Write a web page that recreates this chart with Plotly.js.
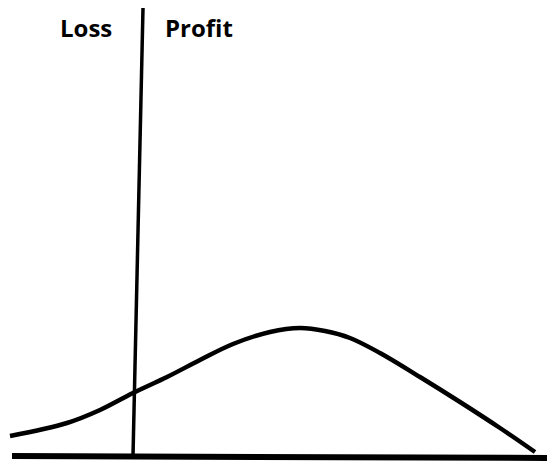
<!DOCTYPE html>
<html>
<head>
<meta charset="utf-8">
<script src="https://cdn.plot.ly/plotly-3.0.1.min.js"></script>
<style>html,body{margin:0;padding:0;background:#fff;}#chart{width:547px;height:466px;}</style>
</head>
<body>
<div id="chart"></div>
<script>
// Profit (x, arbitrary units; 0 = break-even) and probability density (y)
const curveX = [-122, -65, -32, 1, 35, 68, 101, 138, 168, 193, 218, 248, 288, 328, 368, 403];
const curveY = [19, 32, 45, 62, 78, 95, 111, 123, 127, 124, 117, 102, 78, 53, 27, 3];
// break-even divider line
const dividerX = [1, 11];
const dividerY = [-1, 447];
// horizontal base axis
const baseX = [-120, 415];
const baseY = [-1, -3];
// region labels
const labelText = ["Loss", "Profit"];
const labelX = [-46, 67];
const labelY = [428, 428];

const traces = [
  {x: baseX, y: baseY, mode: 'lines', line: {color: '#000', width: 6}, hoverinfo: 'skip'},
  {x: dividerX, y: dividerY, mode: 'lines', line: {color: '#000', width: 3.5}, hoverinfo: 'skip'},
  {x: curveX, y: curveY, mode: 'lines', line: {color: '#000', width: 4.5, shape: 'spline', smoothing: 1}, hoverinfo: 'skip'}
];

const annotations = labelText.map((t, i) => ({
  x: labelX[i], y: labelY[i], xref: 'x', yref: 'y', text: '<b>' + t + '</b>',
  showarrow: false, font: {family: 'Open Sans, DejaVu Sans, sans-serif', size: 24, color: '#000'}
}));

const layout = {
  width: 547, height: 466,
  margin: {l: 0, r: 0, t: 0, b: 0},
  paper_bgcolor: '#fff', plot_bgcolor: '#fff',
  showlegend: false,
  xaxis: {range: [-132, 415], visible: false, fixedrange: true},
  yaxis: {range: [-11, 455], visible: false, fixedrange: true},
  annotations: annotations
};

Plotly.newPlot('chart', traces, layout, {staticPlot: true, displayModeBar: false});
</script>
</body>
</html>
